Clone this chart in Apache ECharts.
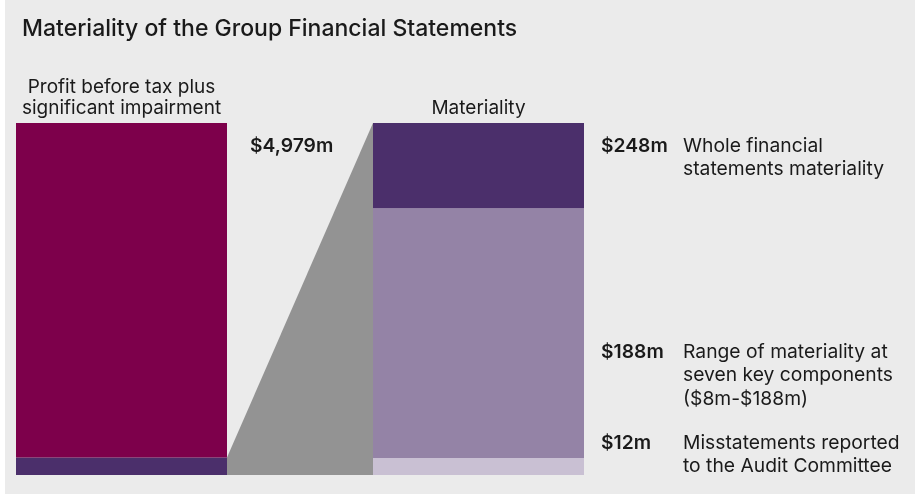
<!DOCTYPE html>
<html>
<head>
<meta charset="utf-8">
<script src="https://cdn.jsdelivr.net/npm/echarts@6/dist/echarts.min.js"></script>
<style>
  html, body { margin: 0; padding: 0; background: #ffffff; }
  #chart { width: 917px; height: 495px; }
</style>
</head>
<body>
<div id="chart"></div>
<script>
// ---- data ($m) ----
const chartTitle = 'Materiality of the Group Financial Statements';
const barNames = ['Profit before tax plus\nsignificant impairment', 'Materiality'];
const profitBeforeTax = 4979;
const materialityLevels = [248, 188, 12];          // whole FS, top component, reporting threshold
const levelDescriptions = [
  'Whole financial\nstatements materiality',
  'Range of materiality at\nseven key components\n($8m-$188m)',
  'Misstatements reported\nto the Audit Committee'
];

// ---- styling ----
const FONT = 'Inter, "Liberation Sans", Arial, sans-serif';
const C = {
  panel: '#ebebeb',
  profit: '#7d004b',
  whole: '#4b2f6b',
  component: '#9483a6',
  reported: '#c9c0d3',
  funnel: '#939393',
  text: '#1a1a1a'
};
const leftGrid = { left: 16, top: 123, width: 211, height: 352 };
const rightGrid = { left: 373, top: 123, width: 211, height: 352 };

const fmt = v => '$' + v.toLocaleString('en-US') + 'm';
const [whole, component, reported] = materialityLevels;

const chart = echarts.init(document.getElementById('chart'));

chart.setOption({
  animation: false,
  textStyle: { fontFamily: FONT },
  title: {
    text: chartTitle,
    left: 17, top: 13,
    textStyle: { fontFamily: FONT, fontSize: 23, fontWeight: 500, color: C.text }
  },
  grid: [leftGrid, rightGrid],
  xAxis: [0, 1].map(i => ({
    type: 'category',
    gridIndex: i,
    position: 'top',
    data: [barNames[i]],
    axisLine: { show: false },
    axisTick: { show: false },
    axisLabel: { fontFamily: FONT, fontSize: 19, lineHeight: 21, color: C.text, margin: 4 }
  })),
  yAxis: [
    { type: 'value', gridIndex: 0, min: 0, max: profitBeforeTax, show: false },
    { type: 'value', gridIndex: 1, min: 0, max: whole, show: false }
  ],
  series: [
    // profit bar: materiality slice at the base, remainder above
    { type: 'bar', xAxisIndex: 0, yAxisIndex: 0, stack: 'pbt', barWidth: '100%',
      data: [whole], itemStyle: { color: C.whole } },
    { type: 'bar', xAxisIndex: 0, yAxisIndex: 0, stack: 'pbt', barWidth: '100%',
      data: [profitBeforeTax - whole], itemStyle: { color: C.profit } },
    // materiality bar, built up from the reporting threshold
    { type: 'bar', xAxisIndex: 1, yAxisIndex: 1, stack: 'mat', barWidth: '100%',
      data: [reported], itemStyle: { color: C.reported } },
    { type: 'bar', xAxisIndex: 1, yAxisIndex: 1, stack: 'mat', barWidth: '100%',
      data: [component - reported], itemStyle: { color: C.component } },
    { type: 'bar', xAxisIndex: 1, yAxisIndex: 1, stack: 'mat', barWidth: '100%',
      data: [whole - component], itemStyle: { color: C.whole } }
  ]
});

// funnel linking the materiality slice to the enlarged materiality bar
const xL = leftGrid.left + leftGrid.width;
const xR = rightGrid.left;
const yL0 = chart.convertToPixel({ yAxisIndex: 0 }, 0);
const yL1 = chart.convertToPixel({ yAxisIndex: 0 }, whole);
const yR0 = chart.convertToPixel({ yAxisIndex: 1 }, 0);
const yR1 = chart.convertToPixel({ yAxisIndex: 1 }, whole);

const LINE = 23.5;
const valueFont = { fontFamily: FONT, fontSize: 19.3, fontWeight: 600, fill: C.text, verticalAlign: 'middle' };
const descFont = { fontFamily: FONT, fontSize: 19.3, fontWeight: 'normal', fill: C.text, lineHeight: LINE, verticalAlign: 'top' };
const labelRows = [146, 352, 443];   // first-line centres

const graphics = [
  { type: 'rect', z: -10, silent: true,
    shape: { x: 5, y: 0, width: 910, height: 494 }, style: { fill: C.panel } },
  { type: 'polygon', z: 1, silent: true,
    shape: { points: [[xL, yL0], [xL, yL1], [xR, yR1], [xR, yR0]] },
    style: { fill: C.funnel } },
  { type: 'text', z: 5, style: Object.assign({ text: fmt(profitBeforeTax), x: 250, y: 146 }, valueFont) }
];
materialityLevels.forEach((v, i) => {
  graphics.push({ type: 'text', z: 5,
    style: Object.assign({ text: fmt(v), x: 601, y: labelRows[i] }, valueFont) });
  graphics.push({ type: 'text', z: 5,
    style: Object.assign({ text: levelDescriptions[i], x: 683, y: labelRows[i] - LINE / 2 }, descFont) });
});

chart.setOption({ graphic: graphics });
</script>
</body>
</html>
